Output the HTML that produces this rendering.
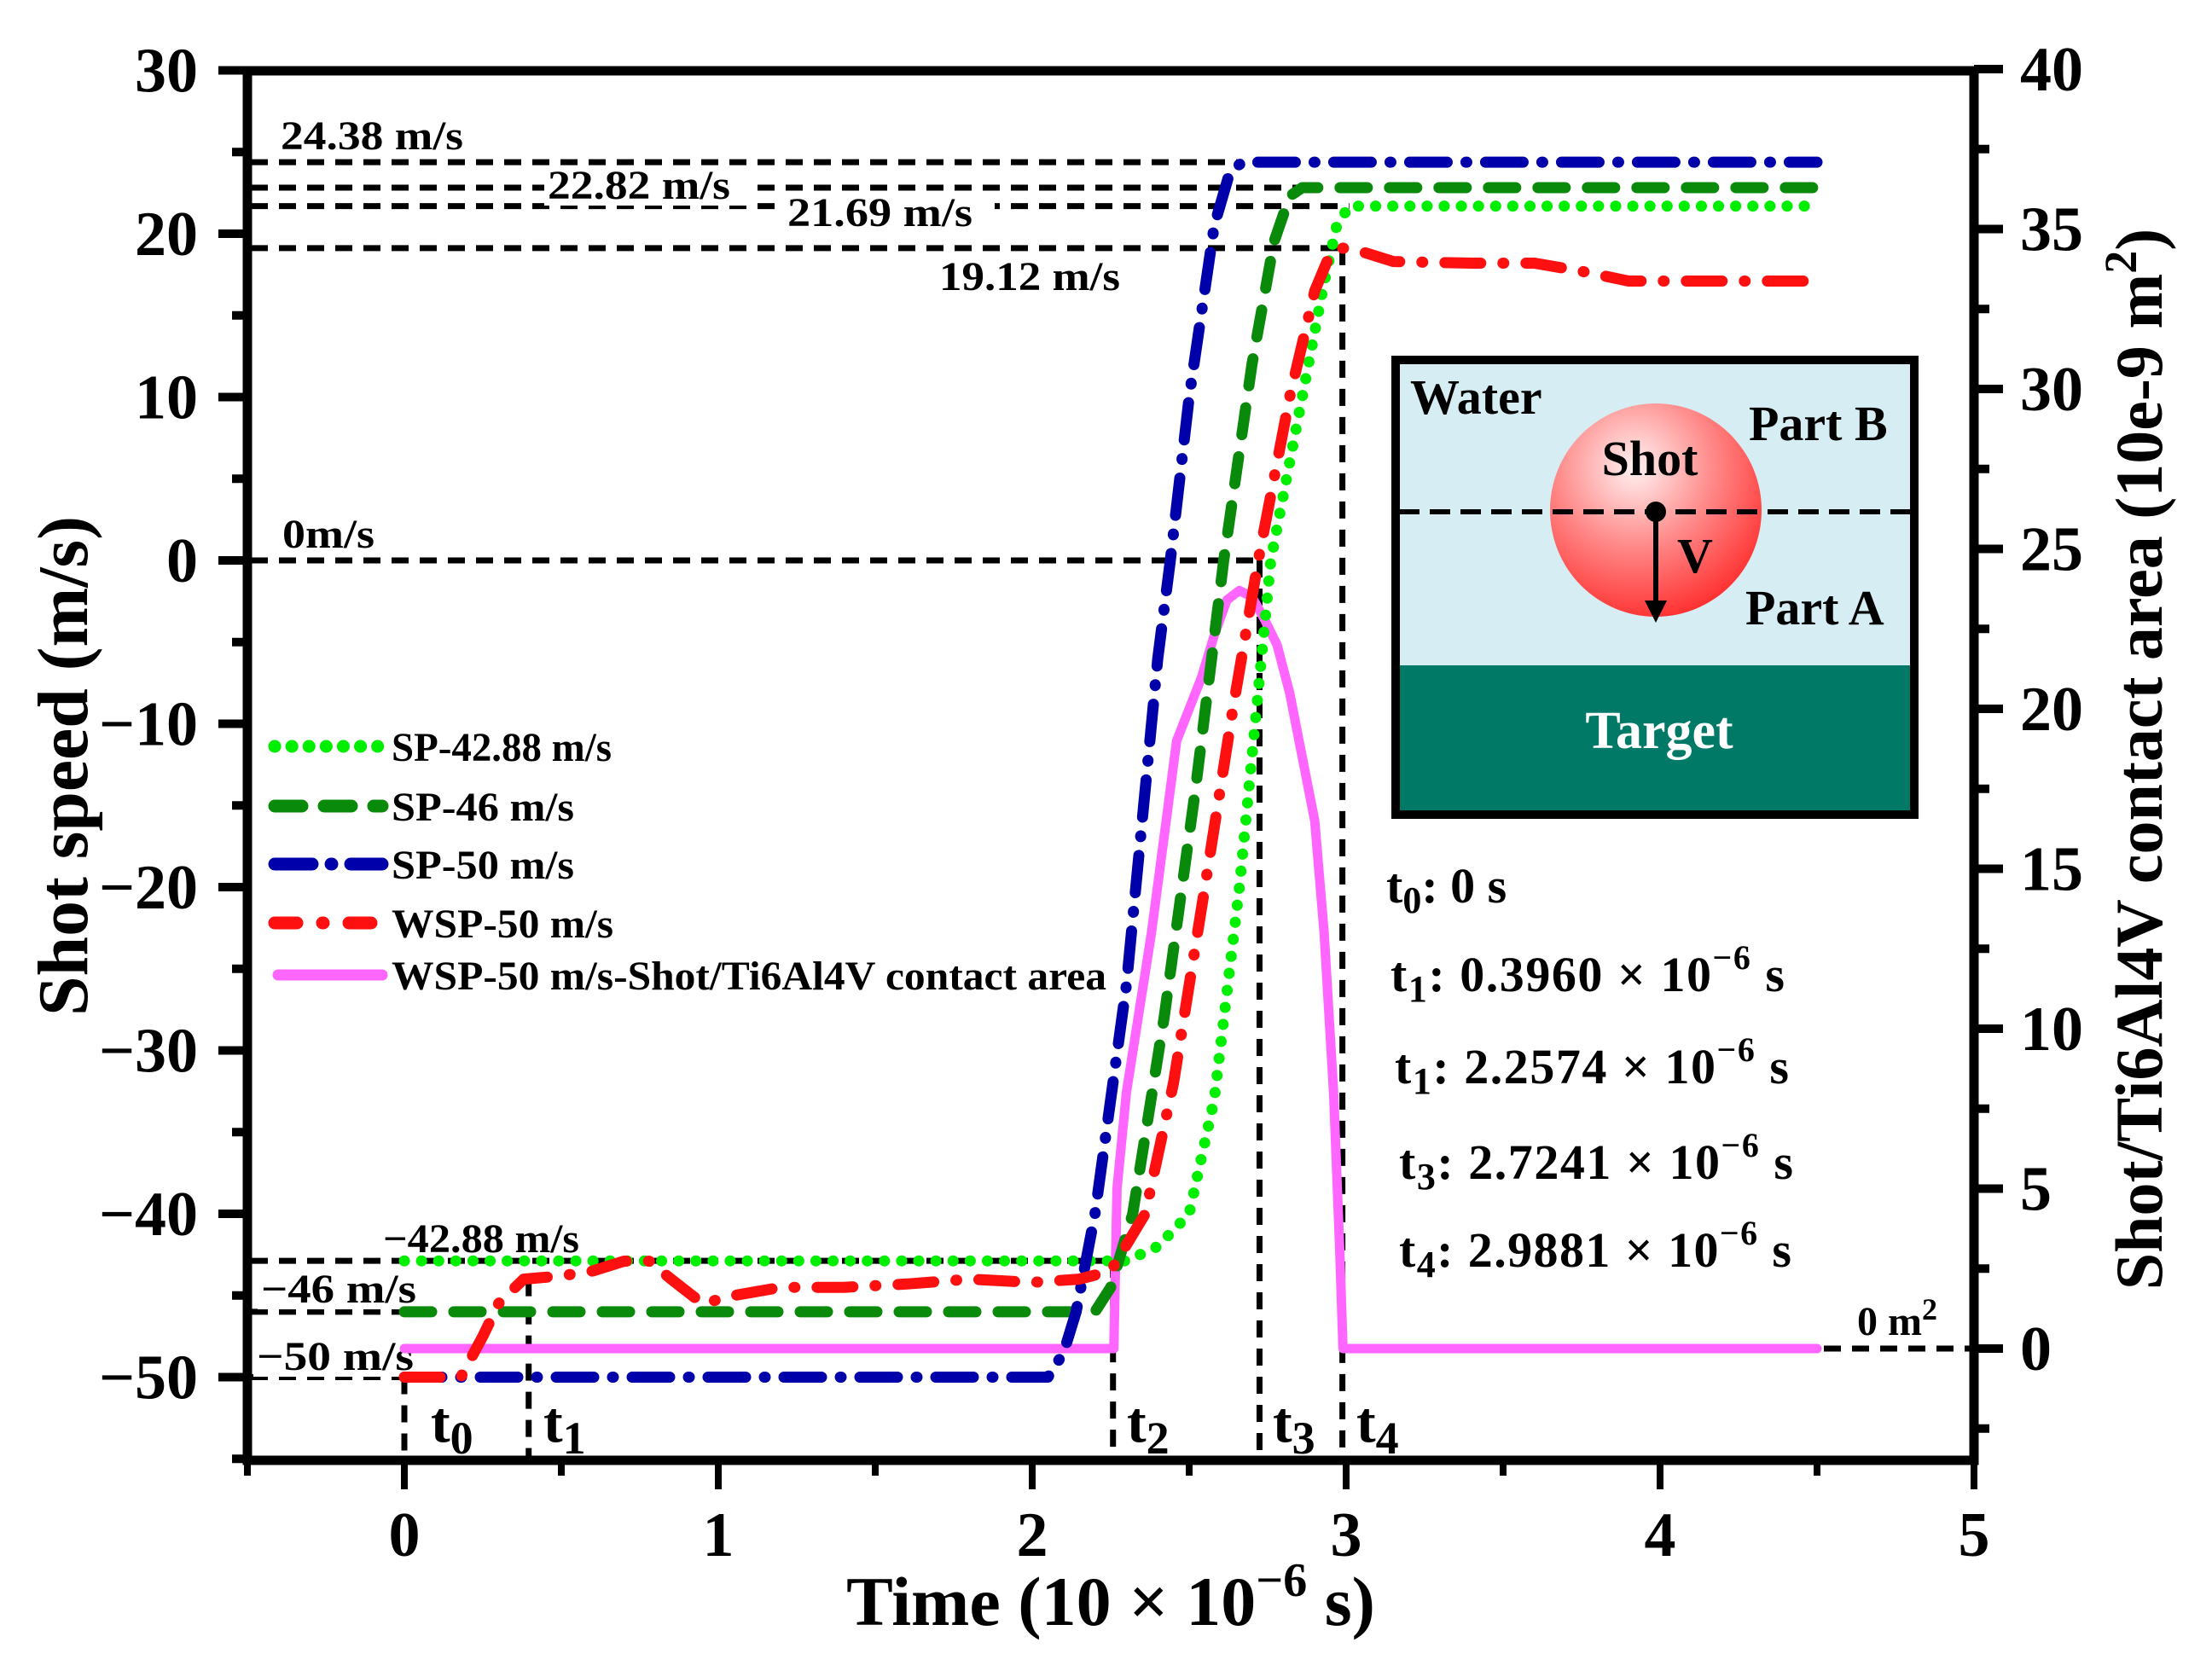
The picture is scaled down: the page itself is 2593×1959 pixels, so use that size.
<!DOCTYPE html>
<html><head><meta charset="utf-8"><style>
html,body{margin:0;padding:0;background:#fff;}
svg{display:block;font-family:"Liberation Serif","Times New Roman",serif;font-weight:bold;}
</style></head><body>
<svg id="chart" xmlns="http://www.w3.org/2000/svg" width="2593" height="1959" viewBox="0 0 2593 1959">
<rect width="2593" height="1959" fill="#fff"/>
<g id="refs"></g>
<g id="series"></g>
<g id="axes"></g>
<g id="inset">
  <rect x="1636" y="422" width="608" height="360" fill="#d6edf3"/>
  <rect x="1636" y="780" width="608" height="175" fill="#007a66"/>
  <defs><radialGradient id="shotg" cx="0.4" cy="0.3" r="0.75"><stop offset="0" stop-color="#fff2f2"/><stop offset="0.5" stop-color="#ff8888"/><stop offset="1" stop-color="#ff2a2a"/></radialGradient></defs>
  <ellipse cx="1941" cy="598" rx="124" ry="125" fill="url(#shotg)"/>
  <line x1="1640" y1="600" x2="2242" y2="600" stroke="#000" stroke-width="6" stroke-dasharray="24 12"/>
  <circle cx="1941" cy="600" r="12" fill="#000"/>
  <line x1="1941" y1="600" x2="1941" y2="712" stroke="#000" stroke-width="6"/>
  <polygon points="1928,704 1954,704 1941,730" fill="#000"/>
  <rect x="1636" y="422" width="608" height="533" fill="none" stroke="#000" stroke-width="10"/>
  <text x="1653" y="485" font-size="58">Water</text>
  <text x="2050" y="516" font-size="58">Part B</text>
  <text x="1934" y="557" font-size="58" text-anchor="middle">Shot</text>
  <text x="1966" y="671" font-size="58">V</text>
  <text x="2046" y="732" font-size="58">Part A</text>
  <text x="1945" y="877" font-size="62" fill="#fff" text-anchor="middle">Target</text>
</g>
<g id="times" font-size="58">
  <text x="1625" y="1058">t<tspan font-size="44" dy="12">0</tspan><tspan dy="-12">: 0 s</tspan></text>
  <text x="1630" y="1162" textLength="462">t<tspan font-size="44" dy="12">1</tspan><tspan dy="-12">: 0.3960 × 10</tspan><tspan font-size="40" dy="-26">−6</tspan><tspan dy="26"> s</tspan></text>
  <text x="1635" y="1270" textLength="462">t<tspan font-size="44" dy="12">1</tspan><tspan dy="-12">: 2.2574 × 10</tspan><tspan font-size="40" dy="-26">−6</tspan><tspan dy="26"> s</tspan></text>
  <text x="1640" y="1382" textLength="462">t<tspan font-size="44" dy="12">3</tspan><tspan dy="-12">: 2.7241 × 10</tspan><tspan font-size="40" dy="-26">−6</tspan><tspan dy="26"> s</tspan></text>
  <text x="1640" y="1485" textLength="460">t<tspan font-size="44" dy="12">4</tspan><tspan dy="-12">: 2.9881 × 10</tspan><tspan font-size="40" dy="-26">−6</tspan><tspan dy="26"> s</tspan></text>
</g>
<g id="legend"></g>
</svg>
<script>
const NS="http://www.w3.org/2000/svg";
// ---- data ----
const xTicks=[0,1,2,3,4,5];
const yTicks=[30,20,10,0,-10,-20,-30,-40,-50];
const yTickLabels=["30","20","10","0","\u221210","\u221220","\u221230","\u221240","\u221250"];
const areaTicks=[0,5,10,15,20,25,30,35,40];
const limeT=[0,2.3,2.4,2.5,2.58,2.66,2.72,2.76,2.86,2.93,2.97,3.01,4.5];
const limeV=[-42.88,-42.88,-42,-40,-33,-20,-8,0,10,17,20.5,21.69,21.69];
const greenT=[0,2.2,2.25,2.32,2.42,2.52,2.61,2.7,2.77,2.82,2.86,4.5];
const greenV=[-46,-46,-44.5,-40,-28,-14,0,12,19.5,22.3,22.82,22.82];
const blueT=[0,2.05,2.1,2.14,2.2,2.3,2.4,2.44,2.5,2.58,2.63,2.67,4.5];
const blueV=[-50,-50,-48.5,-46,-40,-26,-6,0,10,20.5,23.8,24.38,24.38];
const redT=[0,0.18,0.25,0.3,0.38,0.5,0.6,0.7,0.78,0.85,0.95,1.05,1.2,1.4,1.6,1.8,2.0,2.15,2.25,2.36,2.45,2.55,2.64,2.72,2.82,2.9,2.95,2.99,3.05,3.15,3.4,3.6,3.75,3.9,4.2,4.5];
const redV=[-50,-50,-47.5,-45.5,-44,-43.8,-43.5,-42.9,-42.9,-44,-45.5,-45,-44.5,-44.5,-44.3,-44,-44.2,-44,-43.5,-40,-32,-20,-9,0,10,16.5,18.8,19.12,18.9,18.3,18.2,18.2,17.7,17.1,17.1,17.1];
const areaT=[0,2.26,2.27,2.3,2.34,2.38,2.42,2.46,2.5,2.54,2.58,2.62,2.66,2.7,2.74,2.78,2.82,2.86,2.9,2.93,2.96,2.98,2.99,4.5];
const areaV=[0,0,5,8,10.5,13,16,19,20,21,22.3,23.4,23.7,23.5,22.8,22,20.5,18.5,16.5,13,8,3,0,0];
const refSpeeds=[24.38,22.82,21.69,19.12,0,-42.88,-46,-50];
const refEnds=[2.67,2.86,3.01,2.99,2.72,2.26,0,0];
const eventTimes=[0,0.396,2.2574,2.7241,2.9881];
const eventNames=["0","1","2","3","4"];
const eventTops=[-50,-44,-42.88,0,19.12];
// ---- scales ----
const X=t=>474+368*t;
const Y=v=>657-19.15*v;
const A=a=>1581-37.5*a;
const PL=290,PR=2314,PT=83,PB=1712;
function el(tag,attrs,parent,txt){const e=document.createElementNS(NS,tag);for(const k in attrs)e.setAttribute(k,attrs[k]);if(txt!==undefined)e.textContent=txt;parent.appendChild(e);return e;}
const refs=document.getElementById('refs'),ser=document.getElementById('series'),ax=document.getElementById('axes'),leg=document.getElementById('legend');
refSpeeds.forEach((v,i)=>{
  const l=el('line',{x1:PL+4,y1:Y(v),x2:X(refEnds[i]),y2:Y(v),stroke:'#000','stroke-width':7,'stroke-dasharray':'20 13'},refs);
  
  
});
eventTimes.forEach((t,i)=>{
  const l=el('line',{x1:X(t),y1:Y(eventTops[i]),x2:X(t),y2:PB,stroke:'#000','stroke-width':7,'stroke-dasharray':'20 13'},refs);
  
  
});
const z=el('line',{x1:X(4.5)+8,y1:A(0),x2:PR-4,y2:A(0),stroke:'#000','stroke-width':7,'stroke-dasharray':'20 13'},refs);


const refLabels=[["24.38 m/s",329,175,214,false],["22.82 m/s",642,233,214,true],["21.69 m/s",923,265,217,true],["19.12 m/s",1101,340,212,false],["0m/s",331,642,108,false],["\u221242.88 m/s",449,1468,230,false],["\u221246 m/s",306,1527,182,true],["\u221250 m/s",301,1606,184,true]];
refLabels.forEach(r=>{
  if(r[4]) el('rect',{x:r[1]-4,y:r[2]-36,width:r[3]+30,height:44,fill:'#fff'},refs);
  const t=el('text',{x:r[1],y:r[2],'font-size':48,textLength:r[3],lengthAdjust:'spacingAndGlyphs'},refs,r[0]);
  
  
});
const m2=el('text',{x:2177,y:1565,'font-size':48},refs,"0 m");


el('tspan',{'font-size':36,dy:-18},m2,"2");
const evX=[505,637,1321,1492,1590];
eventNames.forEach((n,i)=>{
  const t=el('text',{x:evX[i],y:1690,'font-size':68},refs,"t");
  
  
  el('tspan',{'font-size':54,dy:14},t,n);
});
function path(T,V,sc){return T.map((t,i)=>(i?'L':'M')+X(t).toFixed(1)+','+sc(V[i]).toFixed(1)).join(' ');}
const specs=[
 ['area-curve',areaT,areaV,A,'#ff66ff','none',11],
 ['lime-sp-42-88',limeT,limeV,Y,'#00ee00','0.1 20',13],
 ['green-sp-46',greenT,greenV,Y,'#0a8a0a','32 26',13],
 ['blue-sp-50',blueT,blueV,Y,'#0000aa','44 22 1 22',13],
 ['red-wsp-50',redT,redV,Y,'#ff1010','42 26 1 26',13]
];
specs.forEach(s=>{
  const p=el('path',{d:path(s[1],s[2],s[3]),fill:'none',stroke:s[4],'stroke-width':s[6],'stroke-linecap':'round','stroke-linejoin':'round'},ser);
  if(s[5]!=='none')p.setAttribute('stroke-dasharray',s[5]);
  
  
});
const fr=el('rect',{x:PL,y:PT,width:PR-PL,height:PB-PT,fill:'none',stroke:'#000','stroke-width':11},ax);


for(let t=-0.5;t<=5.01;t+=0.5){
  const major=Math.abs(t-Math.round(t))<1e-6&&t>=0;
  el('line',{x1:X(t),y1:PB,x2:X(t),y2:PB+(major?34:18),stroke:'#000','stroke-width':8},ax);
}
xTicks.forEach(t=>{
  const tx=el('text',{x:X(t),y:1824,'font-size':74,'text-anchor':'middle'},ax,String(t));
  
  
});
for(let v=-55;v<=30;v+=5){
  const major=v%10===0;
  el('line',{x1:PL,y1:Y(v),x2:PL-(major?34:18),y2:Y(v),stroke:'#000','stroke-width':10},ax);
}
yTicks.forEach((v,i)=>{
  const tx=el('text',{x:232,y:Y(v)+25,'font-size':74,'text-anchor':'end'},ax,yTickLabels[i]);
  
  
});
for(let a=-2.5;a<=40;a+=2.5){
  const major=a%5===0;
  el('line',{x1:PR,y1:A(a),x2:PR+(major?34:18),y2:A(a),stroke:'#000','stroke-width':10},ax);
}
areaTicks.forEach(a=>{
  const tx=el('text',{x:2368,y:A(a)+25,'font-size':74},ax,String(a));
  
  
});
const xt=el('text',{x:1302,y:1905,'font-size':82,'text-anchor':'middle'},ax,"Time (10 × 10");


el('tspan',{'font-size':56,dy:-34},xt,"−6");
el('tspan',{dy:34},xt," s)");
const yt=el('text',{x:0,y:0,'font-size':84,'text-anchor':'middle',transform:'translate(102,898) rotate(-90)',textLength:586,lengthAdjust:'spacingAndGlyphs'},ax,"Shot speed (m/s)");


const rt=el('text',{x:0,y:0,'font-size':78,'text-anchor':'middle',transform:'translate(2534,890) rotate(-90)'},ax,"Shot/Ti6Al4V contact area (10e-9 m");


el('tspan',{'font-size':54,dy:-30},rt,"2");
el('tspan',{dy:30},rt,")");
const legNames=["SP-42.88 m/s","SP-46 m/s","SP-50 m/s","WSP-50 m/s","WSP-50 m/s-Shot/Ti6Al4V contact area"];
const legIdx=[1,2,3,4,0];
const legY=[875,945,1013,1082,1143];
const legLen=[258,214,214,260,838];
legNames.forEach((n,i)=>{
  const s=specs[legIdx[i]];
  const ln=el('line',{x1:i===4?326:322,y1:legY[i],x2:448,y2:legY[i],stroke:s[4],'stroke-width':s[6]+2,'stroke-linecap':'round'},leg);
  if(s[5]!=='none')ln.setAttribute('stroke-dasharray',i===3?'26 30 1 30':s[5]);
  
  
  const tx=el('text',{x:459,y:legY[i]+17,'font-size':48,textLength:legLen[i],lengthAdjust:'spacingAndGlyphs'},leg,n);
  
  
});
</script>
</body></html>
